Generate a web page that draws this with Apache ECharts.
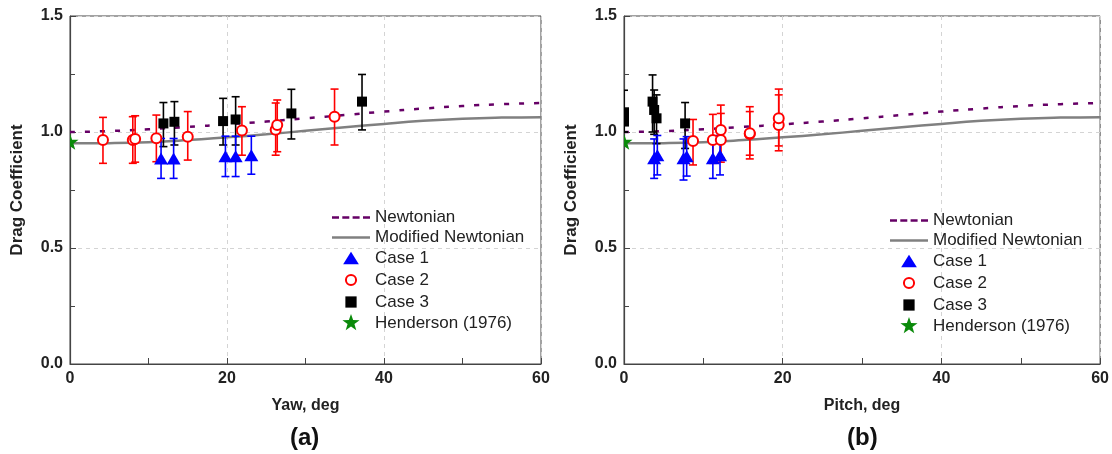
<!DOCTYPE html>
<html>
<head>
<meta charset="utf-8">
<script src="https://cdn.jsdelivr.net/npm/echarts@6/dist/echarts.min.js"></script>
<style>
html,body{margin:0;padding:0;background:#fff;}
#chart{width:1112px;height:454px;}
</style>
</head>
<body>
<div id="chart"></div>
<script>
// ---- Theory curves ----
const curveDeg = [0, 5, 10, 15, 20, 25, 30, 35, 40, 45, 50, 55, 60];
const newtonianCd = [1.000, 1.004, 1.012, 1.022, 1.033, 1.045, 1.059, 1.073, 1.088, 1.101, 1.112, 1.120, 1.125];
const modifiedCd = [0.951, 0.952, 0.956, 0.965, 0.977, 0.990, 1.005, 1.020, 1.035, 1.048, 1.057, 1.062, 1.064];

// ---- (a) Yaw ----
const yawCase1X = [11.6, 13.2, 19.8, 21.1, 23.1];
const yawCase1Y = [0.886, 0.886, 0.895, 0.895, 0.900];
const yawCase1Lo = [0.800, 0.800, 0.808, 0.808, 0.818];
const yawCase1Hi = [0.972, 0.972, 0.982, 0.982, 0.982];

const yawCase2X = [4.2, 8.0, 8.3, 11.0, 15.0, 21.9, 26.2, 26.4, 33.7];
const yawCase2Y = [0.966, 0.966, 0.970, 0.973, 0.980, 1.006, 1.010, 1.030, 1.066];
const yawCase2Lo = [0.865, 0.865, 0.870, 0.872, 0.879, 0.900, 0.900, 0.915, 0.944];
const yawCase2Hi = [1.063, 1.066, 1.070, 1.073, 1.088, 1.109, 1.125, 1.138, 1.185];

const yawCase3X = [11.9, 13.3, 19.5, 21.1, 28.2, 37.2];
const yawCase3Y = [1.037, 1.044, 1.047, 1.054, 1.080, 1.131];
const yawCase3Lo = [0.937, 0.944, 0.944, 0.944, 0.970, 1.009];
const yawCase3Hi = [1.127, 1.131, 1.145, 1.152, 1.184, 1.248];

const yawHendersonX = [0];
const yawHendersonY = [0.958];

// ---- (b) Pitch ----
const pitchCase1X = [3.8, 4.2, 7.5, 7.9, 11.2, 12.1];
const pitchCase1Y = [0.887, 0.900, 0.887, 0.895, 0.887, 0.900];
const pitchCase1Lo = [0.800, 0.815, 0.793, 0.810, 0.800, 0.815];
const pitchCase1Hi = [0.970, 0.985, 0.970, 0.980, 0.970, 0.985];

const pitchCase2X = [8.7, 11.2, 12.2, 12.2, 15.85, 15.85, 19.5, 19.5];
const pitchCase2Y = [0.961, 0.966, 0.966, 1.009, 0.991, 0.995, 1.030, 1.059];
const pitchCase2Lo = [0.858, 0.865, 0.870, 0.888, 0.884, 0.900, 0.919, 0.940];
const pitchCase2Hi = [1.054, 1.076, 1.080, 1.116, 1.088, 1.109, 1.160, 1.185];

const pitchCase3X = [0, 0, 3.6, 3.8, 4.1, 7.7];
const pitchCase3Y = [1.045, 1.085, 1.131, 1.095, 1.059, 1.037];
const pitchCase3Lo = [1.000, 1.000, 1.000, 0.990, 0.950, 0.929];
const pitchCase3Hi = [1.090, 1.180, 1.246, 1.181, 1.160, 1.127];

const pitchHendersonX = [0];
const pitchHendersonY = [0.958];

// ---- tick labels ----
const xTickLabels = ['0', '20', '40', '60'];
const yTickLabels = ['0.0', '0.5', '1.0', '1.5'];

const legendNames = ['Newtonian', 'Modified Newtonian', 'Case 1', 'Case 2', 'Case 3', 'Henderson (1976)'];

const FONT = 'Liberation Sans, Arial, Helvetica, sans-serif';
const BLUE = '#0000ff', RED = '#ff0000', BLACK = '#000000', GREEN = '#0a8a0a';
const PURPLE = '#660066', GREY = '#808080';

// marker shapes
const TRI = 'M0,12 L7,0 L14,12 Z';
const CIRC = 'M0,5 A5,5 0 1 0 10,5 A5,5 0 1 0 0,5 Z';
const SQR = 'M0,0 L10,0 L10,10 L0,10 Z';
const STAR = 'M8,0 L9.88,5.41 L15.6,5.53 L11.04,8.99 L12.7,14.47 L8,11.2 L3.3,14.47 L4.96,8.99 L0.39,5.53 L6.12,5.41 Z';

// legend icons (padded boxes)
const PAD16 = 'M0,0 L0,0 M16,16 L16,16 ';
const iconNewton = 'path://M0,0 L0,0 M38,16 L38,16 M0,6.8 L7,6.8 L7,9.2 L0,9.2 Z M10.3,6.8 L17.3,6.8 L17.3,9.2 L10.3,9.2 Z M20.6,6.8 L27.6,6.8 L27.6,9.2 L20.6,9.2 Z M31,6.8 L38,6.8 L38,9.2 L31,9.2 Z';
const iconModified = 'path://M0,0 L0,0 M38,16 L38,16 M0,6.8 L38,6.8 L38,9.2 L0,9.2 Z';
const iconTri = 'path://' + PAD16 + 'M1,13.5 L8,2.5 L15,13.5 Z';
const iconCirc = 'path://' + PAD16 + 'M3.5,8 A4.5,4.5 0 1 0 12.5,8 A4.5,4.5 0 1 0 3.5,8 Z';
const iconSqr = 'path://' + PAD16 + 'M3,3 L13,3 L13,13 L3,13 Z';
const iconStar = 'path://' + PAD16 + STAR;

function zip(xs, ys) { return xs.map((x, i) => [x, ys[i]]); }

function errSeries(xs, lo, hi, color, idx) {
  return {
    type: 'custom', xAxisIndex: idx, yAxisIndex: idx, clip: true, silent: true, z: 3,
    encode: { x: 0, y: [1, 2] },
    data: xs.map((x, i) => [x, lo[i], hi[i]]),
    renderItem: function (params, api) {
      const t = api.coord([api.value(0), api.value(2)]);
      const b = api.coord([api.value(0), api.value(1)]);
      const w = 4;
      const st = { stroke: color, lineWidth: 1.6 };
      return {
        type: 'group', children: [
          { type: 'line', shape: { x1: t[0], y1: t[1], x2: b[0], y2: b[1] }, style: st },
          { type: 'line', shape: { x1: t[0] - w, y1: t[1], x2: t[0] + w, y2: t[1] }, style: st },
          { type: 'line', shape: { x1: b[0] - w, y1: b[1], x2: b[0] + w, y2: b[1] }, style: st }
        ]
      };
    }
  };
}

function markerSeries(name, xs, ys, path, w, h, fill, stroke, lw, idx, z) {
  const item = { color: fill };
  if (stroke) { item.borderColor = stroke; item.borderWidth = lw; }
  return {
    name: name, type: 'custom', xAxisIndex: idx, yAxisIndex: idx, clip: true, z: z,
    encode: { x: 0, y: 1 },
    data: zip(xs, ys),
    itemStyle: item,
    renderItem: function (params, api) {
      const p = api.coord([api.value(0), api.value(1)]);
      return {
        type: 'path',
        shape: { pathData: path, x: p[0] - w / 2, y: p[1] - h / 2, width: w, height: h, layout: 'center' },
        style: stroke ? { fill: fill, stroke: stroke, lineWidth: lw } : { fill: fill }
      };
    }
  };
}

function panelSeries(idx, c1x, c1y, c1lo, c1hi, c2x, c2y, c2lo, c2hi, c3x, c3y, c3lo, c3hi, hx, hy) {
  return [
    { name: 'Newtonian', type: 'line', xAxisIndex: idx, yAxisIndex: idx, smooth: true, symbol: 'none', z: 2,
      data: zip(curveDeg, newtonianCd), lineStyle: { color: PURPLE, width: 2.5, type: [5, 10] }, itemStyle: { color: PURPLE } },
    { name: 'Modified Newtonian', type: 'line', xAxisIndex: idx, yAxisIndex: idx, smooth: true, symbol: 'none', z: 2,
      data: zip(curveDeg, modifiedCd), lineStyle: { color: GREY, width: 2.5 }, itemStyle: { color: GREY } },
    errSeries(c3x, c3lo, c3hi, BLACK, idx),
    errSeries(c2x, c2lo, c2hi, RED, idx),
    errSeries(c1x, c1lo, c1hi, BLUE, idx),
    markerSeries('Case 3', c3x, c3y, SQR, 10, 10, BLACK, null, 0, idx, 4),
    markerSeries('Case 2', c2x, c2y, CIRC, 10, 10, '#ffffff', RED, 2, idx, 4),
    markerSeries('Case 1', c1x, c1y, TRI, 14, 12, BLUE, null, 0, idx, 4),
    markerSeries('Henderson (1976)', hx, hy, STAR, 17, 17, GREEN, null, 0, idx, 5)
  ];
}

function xAxisOpt(idx, name) {
  return {
    gridIndex: idx, type: 'value', min: 0, max: 60, interval: 20,
    name: name, nameLocation: 'middle', nameGap: 34,
    nameTextStyle: { fontFamily: FONT, fontSize: 16, fontWeight: 'bold', color: '#222' },
    axisLine: { show: true, lineStyle: { color: '#444', width: 1.2 } },
    axisTick: { show: true, inside: true, length: 6, lineStyle: { color: '#444' } },
    minorTick: { show: true, splitNumber: 2, length: 6, lineStyle: { color: '#444' } },
    axisLabel: { fontFamily: FONT, fontSize: 16, fontWeight: 'bold', color: '#222', margin: 7,
      formatter: v => xTickLabels[Math.round(v / 20)] },
    splitLine: { show: true, lineStyle: { color: '#d4d4d4', type: [4, 4], width: 1 } }
  };
}
function yAxisOpt(idx) {
  return {
    gridIndex: idx, type: 'value', min: 0, max: 1.5, interval: 0.5,
    name: 'Drag Coefficient', nameLocation: 'middle', nameGap: 44,
    nameTextStyle: { fontFamily: FONT, fontSize: 17, fontWeight: 'bold', color: '#222' },
    axisLine: { show: true, lineStyle: { color: '#444', width: 1.2 } },
    axisTick: { show: true, inside: true, length: 6, lineStyle: { color: '#444' } },
    minorTick: { show: true, splitNumber: 2, length: 5, lineStyle: { color: '#444' } },
    axisLabel: { fontFamily: FONT, fontSize: 16, fontWeight: 'bold', color: '#222', margin: 7,
      formatter: v => yTickLabels[Math.round(v / 0.5)] },
    splitLine: { show: true, lineStyle: { color: '#d4d4d4', type: [4, 4], width: 1 } }
  };
}
const legendIcons = [iconNewton, iconModified, iconTri, iconCirc, iconSqr, iconStar];
function legendOpt(left, top) {
  return {
    left: left, top: top, orient: 'vertical', itemWidth: 38, itemHeight: 18, itemGap: 3,
    selectedMode: false, symbolKeepAspect: true,
    data: legendNames.map((n, i) => ({ name: n, icon: legendIcons[i] })),
    textStyle: { fontFamily: FONT, fontSize: 17, color: '#222' }
  };
}

const chart = echarts.init(document.getElementById('chart'), null, { renderer: 'canvas' });
chart.setOption({
  animation: false,
  backgroundColor: '#ffffff',
  grid: [
    { left: 70, top: 16, width: 471, height: 348, show: true, borderColor: '#444', borderWidth: 1, backgroundColor: 'transparent' },
    { left: 624, top: 16, width: 477, height: 348, show: true, borderColor: '#444', borderWidth: 1, backgroundColor: 'transparent' }
  ],
  xAxis: [xAxisOpt(0, 'Yaw, deg'), xAxisOpt(1, 'Pitch, deg')],
  yAxis: [yAxisOpt(0), yAxisOpt(1)],
  legend: [legendOpt(327, 204), legendOpt(885, 207)],
  graphic: [
    { type: 'text', left: 290, top: 426, style: { text: '(a)', fontFamily: FONT, fontSize: 24, fontWeight: 'bold', fill: '#111' } },
    { type: 'text', left: 847, top: 426, style: { text: '(b)', fontFamily: FONT, fontSize: 24, fontWeight: 'bold', fill: '#111' } }
  ],
  series: [].concat(
    panelSeries(0, yawCase1X, yawCase1Y, yawCase1Lo, yawCase1Hi, yawCase2X, yawCase2Y, yawCase2Lo, yawCase2Hi,
      yawCase3X, yawCase3Y, yawCase3Lo, yawCase3Hi, yawHendersonX, yawHendersonY),
    panelSeries(1, pitchCase1X, pitchCase1Y, pitchCase1Lo, pitchCase1Hi, pitchCase2X, pitchCase2Y, pitchCase2Lo, pitchCase2Hi,
      pitchCase3X, pitchCase3Y, pitchCase3Lo, pitchCase3Hi, pitchHendersonX, pitchHendersonY)
  )
});
</script>
</body>
</html>
